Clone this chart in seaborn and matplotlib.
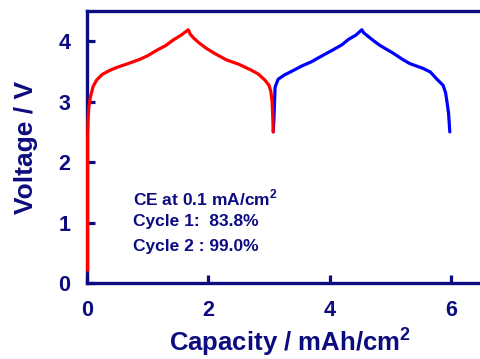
import matplotlib
matplotlib.use("Agg")
import matplotlib.pyplot as plt
import seaborn as sns
import pandas as pd

# Cycle 1 (red): charge then discharge, cumulative capacity
cap1 = [0.01, 0.01, 0.02, 0.03, 0.05, 0.10, 0.16, 0.25, 0.38, 0.50, 0.65, 0.87, 1.00, 1.15, 1.30, 1.42, 1.55, 1.67,
        1.70, 1.75, 1.85, 1.97, 2.10, 2.30, 2.50, 2.69, 2.82, 2.93, 3.00, 3.03, 3.05, 3.06, 3.07]
v1 = [0.21, 2.47, 2.75, 2.90, 3.05, 3.25, 3.36, 3.45, 3.52, 3.57, 3.62, 3.70, 3.76, 3.85, 3.93, 4.02, 4.10, 4.19,
      4.12, 4.06, 3.97, 3.88, 3.80, 3.69, 3.62, 3.53, 3.46, 3.36, 3.27, 3.17, 3.00, 2.80, 2.50]

# Cycle 2 (blue)
cap2 = [3.07, 3.08, 3.10, 3.15, 3.25, 3.35, 3.54, 3.70, 3.84, 4.06, 4.20, 4.31, 4.43, 4.53,
        4.56, 4.61, 4.72, 4.83, 5.05, 5.20, 5.32, 5.54, 5.66, 5.76, 5.87, 5.91, 5.93, 5.96, 5.98]
v2 = [2.50, 2.69, 3.24, 3.37, 3.44, 3.49, 3.59, 3.66, 3.74, 3.86, 3.94, 4.03, 4.10, 4.19,
      4.14, 4.10, 4.01, 3.93, 3.80, 3.70, 3.63, 3.55, 3.49, 3.38, 3.27, 3.15, 3.02, 2.80, 2.50]

xticks = [0, 2, 4, 6]
yticks = [0, 1, 2, 3, 4]
annot = ["CE at 0.1 mA/cm$^{\\mathbf{2}}$", "Cycle 1:  83.8%", "Cycle 2 : 99.0%"]

sns.set_style("white")
plt.rcParams['font.family'] = ['Liberation Sans', 'DejaVu Sans']
plt.rcParams['mathtext.fontset'] = 'custom'
plt.rcParams['mathtext.rm'] = 'Liberation Sans:bold'
plt.rcParams['mathtext.bf'] = 'Liberation Sans:bold'

NAVY = "#0c0c80"
W, H = 481, 359
fig = plt.figure(figsize=(W / 100, H / 100), dpi=100)
px_per_x = 60.67
xmax = 6.7
ax = fig.add_axes([87 / W, (H - 283) / H, xmax * px_per_x / W, (283 - 11) / H])

df1 = pd.DataFrame({"cap": cap1, "v": v1})
df2 = pd.DataFrame({"cap": cap2, "v": v2})
sns.lineplot(data=df2, x="cap", y="v", sort=False, estimator=None, color="#0000ff", lw=2.3, ax=ax, zorder=5)
sns.lineplot(data=df1, x="cap", y="v", sort=False, estimator=None, color="#ff0000", lw=2.3, ax=ax, zorder=5)
for ln in ax.lines:
    ln.set_clip_on(False)

ax.set_xlim(0, xmax)
ax.set_ylim(0, 4.5)
ax.set_xticks(xticks)
ax.set_yticks(yticks)
ax.tick_params(direction="in", length=6, width=2.3, color=NAVY, labelcolor=NAVY,
               labelsize=15.5, pad=12, bottom=True, left=True)
for lab in ax.get_xticklabels() + ax.get_yticklabels():
    lab.set_fontweight("bold")
for s in ax.spines.values():
    s.set_color(NAVY)
    s.set_linewidth(2.4)
    s.set_zorder(4)

ax.set_xlabel("Capacity / mAh/cm$^{\\mathbf{2}}$", fontsize=18.5, fontweight="bold", color=NAVY, labelpad=3)
ax.set_ylabel("Voltage / V", fontsize=19, fontweight="bold", color=NAVY, labelpad=15)

ys = [1.40, 1.01, 0.61]
for t, yv in zip(annot, ys):
    ax.text(0.76, yv, t, fontsize=12.5, fontweight="bold", color=NAVY, va="center", ha="left")

fig.savefig("out.png", dpi=100)
